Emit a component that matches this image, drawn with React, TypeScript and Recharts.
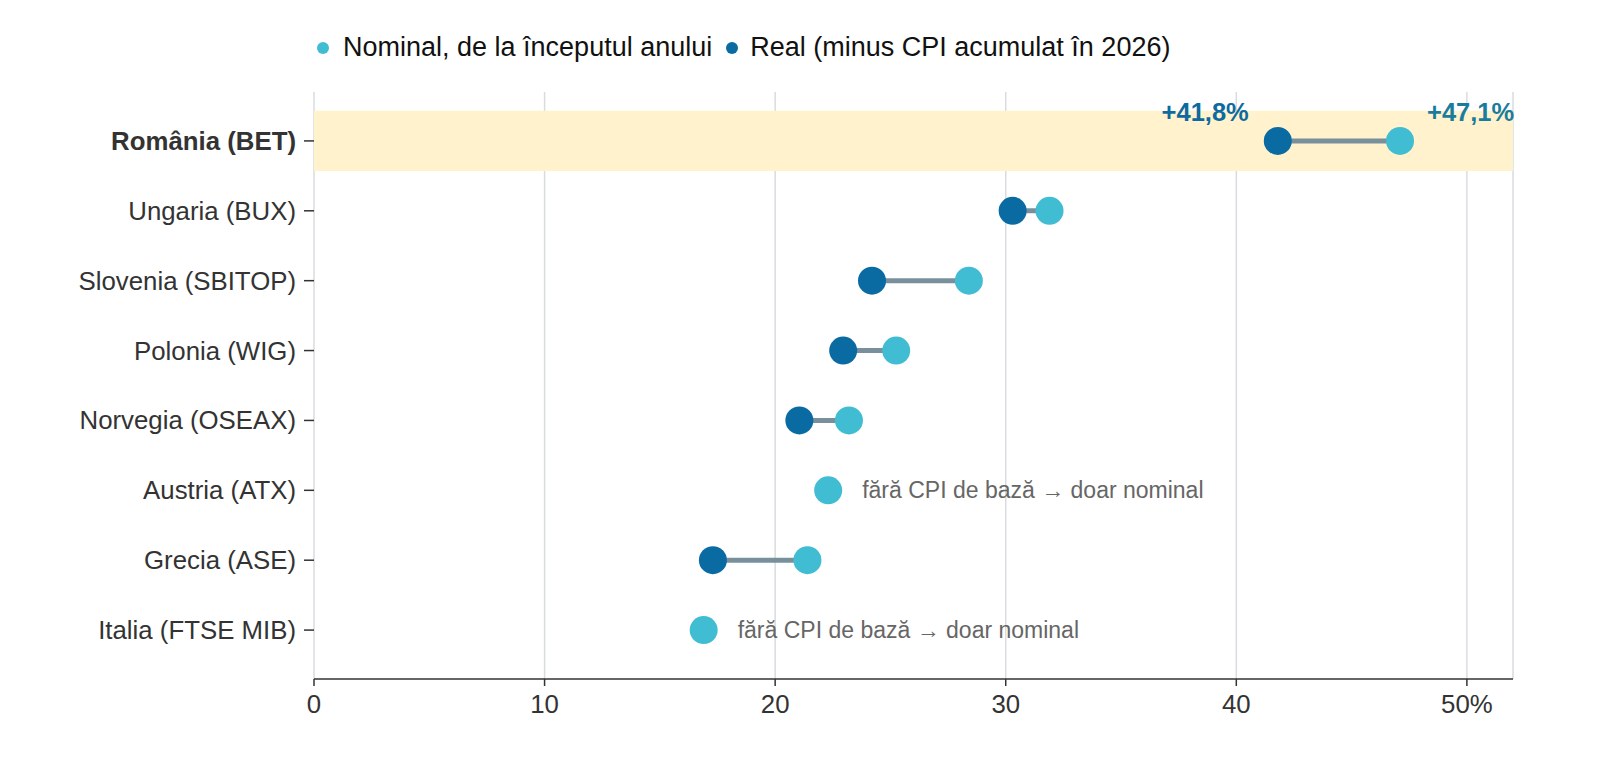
import React from "react";
import {
  ScatterChart,
  Scatter,
  XAxis,
  YAxis,
  CartesianGrid,
  ReferenceArea,
  ReferenceLine,
  LabelList,
} from "recharts";

const countries = [
  "România (BET)",
  "Ungaria (BUX)",
  "Slovenia (SBITOP)",
  "Polonia (WIG)",
  "Norvegia (OSEAX)",
  "Austria (ATX)",
  "Grecia (ASE)",
  "Italia (FTSE MIB)",
];
const nominal = [47.1, 31.9, 28.4, 25.25, 23.2, 22.3, 21.4, 16.9];
const real: (number | null)[] = [41.8, 30.3, 24.2, 22.95, 21.05, null, 17.3, null];
const xTicks = [0, 10, 20, 30, 40, 50];
const noteText = "fără CPI de bază → doar nominal";

const NOMINAL_COLOR = "#40bcd3";
const REAL_COLOR = "#0a6ba3";
const FONT = "'Liberation Sans', Arial, sans-serif";

if (typeof document !== "undefined") {
  document.body.style.margin = "0";
  document.documentElement.style.overflow = "hidden";
  document.body.style.overflow = "hidden";
}

const nominalData = nominal.map((v, i) => ({
  x: v,
  y: i,
  label: i === 0 ? "+47,1%" : "",
  note: real[i] === null ? noteText : "",
}));
const realData = real
  .map((v, i) => ({ x: v, y: i, label: i === 0 ? "+41,8%" : "" }))
  .filter((d) => d.x !== null);

const Dot = (color: string) => (props: any) => (
  <circle cx={props.cx} cy={props.cy} r={14} fill={color} />
);

const YTick = (props: any) => {
  const { x, y, payload } = props;
  const idx = payload.value as number;
  return (
    <text
      x={x}
      y={y}
      dy={9}
      textAnchor="end"
      fontSize={25.8}
      fontFamily={FONT}
      fontWeight={idx === 0 ? "bold" : "normal"}
      fill="#333"
    >
      {countries[idx]}
    </text>
  );
};

const nominalLabel = (props: any) => {
  const { x, y, width, height, index } = props;
  const d = nominalData[index];
  const cx = x + width / 2;
  const cy = y + height / 2;
  if (d.label) {
    return (
      <text x={cx + 27} y={cy - 20} textAnchor="start" fontSize={25.5} fontWeight="bold" fontFamily={FONT} fill="#1a7c9c">
        {d.label}
      </text>
    );
  }
  if (d.note) {
    return (
      <text x={cx + 34} y={cy + 8} textAnchor="start" fontSize={23} fontFamily={FONT} fill="#666">
        {d.note}
      </text>
    );
  }
  return null;
};

const realLabel = (props: any) => {
  const { x, y, width, height, index } = props;
  const d = realData[index];
  if (!d.label) return null;
  const cx = x + width / 2;
  const cy = y + height / 2;
  return (
    <text x={cx - 29} y={cy - 20} textAnchor="end" fontSize={25.5} fontWeight="bold" fontFamily={FONT} fill="#0d6aa0">
      {d.label}
    </text>
  );
};

export default function App() {
  return (
    <div style={{ position: "relative", width: 1600, height: 780, background: "#fff", fontFamily: FONT, overflow: "hidden" }}>
      <div
        style={{
          position: "absolute",
          top: 32,
          left: 317,
          display: "flex",
          alignItems: "center",
          fontSize: 27,
          color: "#111",
          whiteSpace: "nowrap",
        }}
      >
        <span style={{ width: 12, height: 12, borderRadius: 6, background: NOMINAL_COLOR, display: "inline-block", marginRight: 14 }} />
        <span style={{ marginRight: 14 }}>Nominal, de la începutul anului</span>
        <span style={{ width: 12, height: 12, borderRadius: 6, background: REAL_COLOR, display: "inline-block", marginRight: 12 }} />
        <span>Real (minus CPI acumulat în 2026)</span>
      </div>
      <ScatterChart width={1600} height={780} margin={{ top: 92, right: 87, left: 0, bottom: 71 }}>
        <ReferenceArea x1={0} x2={52} y1={-0.43} y2={0.43} fill="#fff2cc" fillOpacity={1} stroke="none" ifOverflow="visible" />
        <CartesianGrid horizontal={false} stroke="#d9dcdf" strokeWidth={1.5} />
        <XAxis
          type="number"
          dataKey="x"
          domain={[0, 52]}
          ticks={xTicks}
          allowDataOverflow
          tickFormatter={(v: number) => (v === 50 ? "50%" : String(v))}
          axisLine={{ stroke: "#333", strokeWidth: 1.5 }}
          tickLine={{ stroke: "#333", strokeWidth: 1.5 }}
          tickSize={7}
          tickMargin={9}
          height={30}
          tick={{ fontSize: 25.8, fill: "#333", fontFamily: FONT }}
        />
        <YAxis
          type="number"
          dataKey="y"
          domain={[-0.7, 7.7]}
          ticks={[0, 1, 2, 3, 4, 5, 6, 7]}
          reversed
          allowDataOverflow
          width={314}
          axisLine={false}
          tickLine={{ stroke: "#333", strokeWidth: 1.5 }}
          tickSize={10}
          tickMargin={8}
          tick={<YTick />}
        />
        {real.map((r, i) =>
          r === null ? null : (
            <ReferenceLine
              key={i}
              segment={[
                { x: r, y: i },
                { x: nominal[i], y: i },
              ]}
              stroke="#78909c"
              strokeWidth={5}
              ifOverflow="visible"
            />
          )
        )}
        <Scatter name="Nominal, de la începutul anului" data={nominalData} fill={NOMINAL_COLOR} shape={Dot(NOMINAL_COLOR)} isAnimationActive={false}>
          <LabelList dataKey="label" content={nominalLabel} />
        </Scatter>
        <Scatter name="Real (minus CPI acumulat în 2026)" data={realData} fill={REAL_COLOR} shape={Dot(REAL_COLOR)} isAnimationActive={false}>
          <LabelList dataKey="label" content={realLabel} />
        </Scatter>
      </ScatterChart>
    </div>
  );
}
